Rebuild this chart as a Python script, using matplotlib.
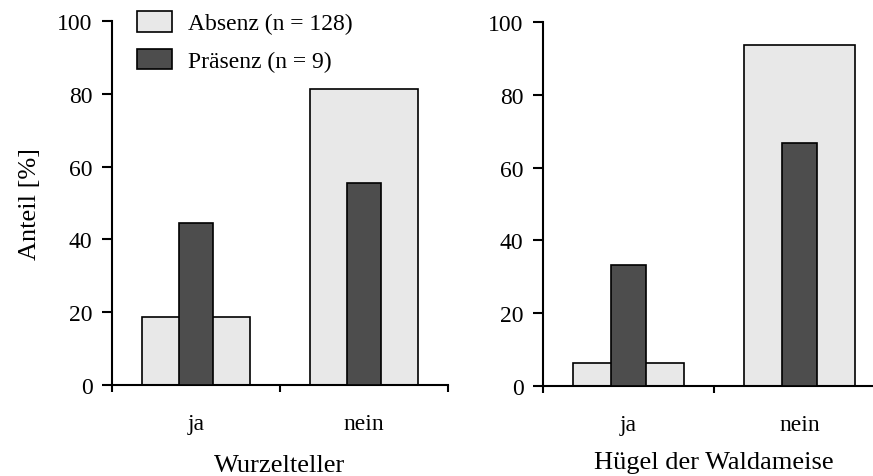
import numpy as np
import matplotlib
matplotlib.use("Agg")
import matplotlib.pyplot as plt
from matplotlib.patches import Patch

# data (percent)
categories = ["ja", "nein"]
absenz_wurzel = [18.8, 81.2]
praesenz_wurzel = [44.4, 55.6]
absenz_huegel = [6.3, 93.7]
praesenz_huegel = [33.3, 66.7]
labels = ["Absenz (n = 128)", "Präsenz (n = 9)"]
xtitles = ["Wurzelteller", "Hügel der Waldameise"]

light = "#e8e8e8"
dark = "#4d4d4d"

plt.rcParams["font.family"] = ["Liberation Serif", "DejaVu Serif"]

W, H = 873, 477
fig = plt.figure(figsize=(W / 100, H / 100), dpi=100)

def px(x0, x1, y0, y1):
    # pixel box -> figure fraction [left, bottom, width, height]
    return [x0 / W, 1 - y1 / H, (x1 - x0) / W, (y1 - y0) / H]

ax1 = fig.add_axes(px(112, 448, 22, 386))
ax2 = fig.add_axes(px(543, 885, 23, 387))

pos = np.arange(len(categories)) + 0.5

for ax, a, p, title, lp in [(ax1, absenz_wurzel, praesenz_wurzel, xtitles[0], 14.5),
                            (ax2, absenz_huegel, praesenz_huegel, xtitles[1], 12)]:
    ax.bar(pos, a, width=0.645, color=light, edgecolor="black", linewidth=1.2, zorder=2)
    ax.bar(pos, p, width=0.2, color=dark, edgecolor="black", linewidth=1.2, zorder=3)
    ax.set_xlim(0, 2)
    ax.set_ylim(0, 100)
    ax.set_yticks([0, 20, 40, 60, 80, 100])
    ax.set_xticks([0, 1, 2])
    ax.set_xticklabels([])
    ax.set_xticks(pos, minor=True)
    ax.set_xticklabels(categories, minor=True)
    ax.tick_params(axis="x", which="minor", length=0, pad=20, labelsize=17)
    ax.tick_params(axis="x", which="major", direction="out", length=5, width=1.5)
    ax.tick_params(axis="y", direction="out", length=7, width=1.5, labelsize=17, pad=7)
    for s in ["top", "right"]:
        ax.spines[s].set_visible(False)
    for s in ["left", "bottom"]:
        ax.spines[s].set_linewidth(1.5)
    ax.set_xlabel(title, fontsize=19, labelpad=lp)

ax1.set_ylabel("Anteil [%]", fontsize=19, labelpad=12)

handles = [Patch(facecolor=light, edgecolor="black", linewidth=1.2),
           Patch(facecolor=dark, edgecolor="black", linewidth=1.2)]
fig.legend(handles, labels, loc="upper left", bbox_to_anchor=(137 / W, 1 - 12 / H),
           frameon=False, fontsize=17, handlelength=1.5, handleheight=0.97,
           labelspacing=0.6, handletextpad=0.65, borderpad=0, borderaxespad=0)

fig.savefig("out.png", dpi=100)
